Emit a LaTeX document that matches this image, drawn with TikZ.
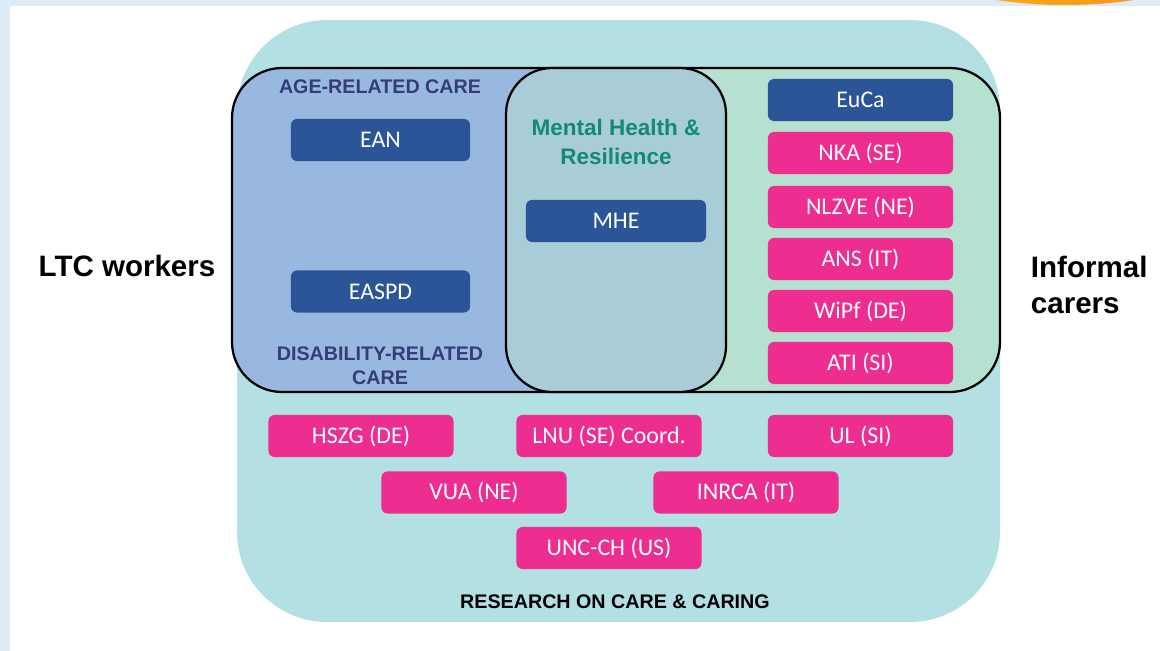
\documentclass[tikz,border=0pt]{standalone}
\usepackage{fontspec}
\setmainfont{Carlito}
\newfontfamily\headfont{Liberation Sans}
\definecolor{frameblue}{HTML}{DCEBF5}
\definecolor{sunorange}{HTML}{FDB515}
\definecolor{sundark}{HTML}{F58A1F}
\definecolor{careteal}{HTML}{B3E0E3}
\definecolor{agedblue}{HTML}{98B8E0}
\definecolor{carergreen}{HTML}{B6E0CF}
\definecolor{mhfill}{HTML}{A9CDD6}
\definecolor{netblue}{HTML}{2B5597}
\definecolor{partpink}{HTML}{EE2D90}
\definecolor{navytext}{HTML}{353C78}
\definecolor{mhtext}{HTML}{13897A}

\begin{document}
\begin{tikzpicture}[x=0.025cm,y=-0.025cm]
  \tikzstyle{box}=[rounded corners=0.15cm,minimum width=4.625cm,minimum height=1.05cm,
                   inner sep=0pt,text=white,font=\fontsize{17}{20}\selectfont]
  \tikzstyle{network}=[box,fill=netblue]
  \tikzstyle{partner}=[box,fill=partpink]
  \tikzstyle{heading}=[font=\headfont\bfseries\fontsize{14}{17}\selectfont,align=center]
  \tikzstyle{side}=[font=\headfont\bfseries\fontsize{21}{26}\selectfont]
  \useasboundingbox (0,0) rectangle (1160,651);
  \clip (0,0) rectangle (1160,651);

  % page frame
  \fill[frameblue] (0,0) rectangle (1160,651);
  \fill[white] (10,6) rectangle (1160,651);
  \shade[left color=sunorange,middle color=sunorange,right color=sundark] (1065,-30) ellipse [x radius=132,y radius=35];

  % areas
  \fill[careteal,rounded corners=2.25cm] (237,20) rectangle (1000,622);
  \fill[carergreen,rounded corners=1.25cm] (232,68) rectangle (1000,392);
  \begin{scope}
    \clip (0,0) rectangle (616,651);
    \fill[agedblue,rounded corners=1.25cm] (232,68) rectangle (1000,392);
  \end{scope}
  \draw[line width=1.6pt,rounded corners=1.25cm] (232,68) rectangle (1000,392);
  \filldraw[fill=mhfill,line width=1.6pt,rounded corners=1.15cm] (506,68) rectangle (726,392);

  % headings
  \node[heading,text=navytext] (age) at (380,87) {AGE-RELATED CARE};
  \node[heading,text=navytext] (dis) at (380,366) {DISABILITY-RELATED\\CARE};
  \node[heading,text=mhtext,font=\headfont\bfseries\fontsize{16}{20}\selectfont] (mh) at (616,142) {Mental Health \&\\Resilience};
  \node[heading,text=black] (res) at (615,602) {RESEARCH ON CARE \& CARING};
  \node[side] (ltc) at (127,266) {LTC workers};
  \node[side,anchor=west,align=left] (inf) at (1026,285) {Informal\\carers};

  % networks
  \node[network,minimum width=4.475cm] (ean) at (380.5,140) {EAN};
  \node[network,minimum width=4.475cm] (easpd) at (380.5,291.5) {EASPD};
  \node[network,minimum width=4.5cm] (mhe) at (616,221) {MHE};
  \node[network] (euca) at (860.5,100) {EuCa};

  % partners
  \node[partner] (nka) at (860.5,153) {NKA (SE)};
  \node[partner] (nlzve) at (860.5,207) {NLZVE (NE)};
  \node[partner] (ans) at (860.5,259) {ANS (IT)};
  \node[partner] (wipf) at (860.5,311) {WiPf (DE)};
  \node[partner] (ati) at (860.5,363) {ATI (SI)};
  \node[partner] (hszg) at (361,436) {HSZG (DE)};
  \node[partner] (lnu) at (609,436) {LNU (SE) Coord.};
  \node[partner] (ul) at (860.5,436) {UL (SI)};
  \node[partner] (vua) at (474,492.5) {VUA (NE)};
  \node[partner] (inrca) at (746,492.5) {INRCA (IT)};
  \node[partner] (unc) at (609,548) {UNC-CH (US)};
\end{tikzpicture}
\end{document}
